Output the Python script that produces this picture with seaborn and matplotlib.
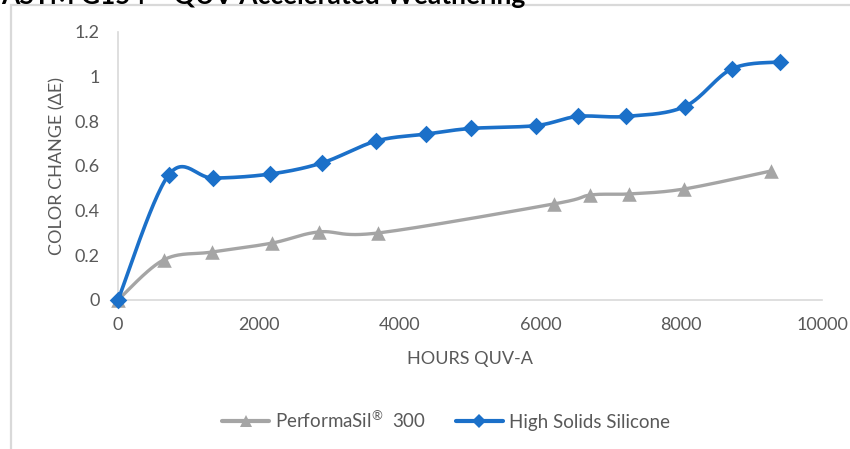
import numpy as np
import pandas as pd
import matplotlib
matplotlib.use("Agg")
import matplotlib.pyplot as plt
from matplotlib.lines import Line2D
from matplotlib.patches import Rectangle
import seaborn as sns

# ---- data ----
perf_hours = [0, 650, 1340, 2190, 2860, 3690, 6190, 6710, 7260, 8040, 9280]
perf_de = [0, 0.18, 0.215, 0.255, 0.305, 0.30, 0.43, 0.47, 0.475, 0.497, 0.578]

hss_hours = [0, 720, 1350, 2160, 2900, 3670, 4380, 5010, 5940, 6530, 7220, 8050, 8720, 9400]
hss_de = [0, 0.56, 0.546, 0.564, 0.614, 0.712, 0.743, 0.768, 0.781, 0.822, 0.822, 0.866, 1.035, 1.066]

series_names = ["PerformaSil$^{\\circledR}$  300", "High Solids Silicone"]
x_ticks = [0, 2000, 4000, 6000, 8000, 10000]
y_ticks = [0, 0.2, 0.4, 0.6, 0.8, 1, 1.2]
y_tick_labels = ["0", "0.2", "0.4", "0.6", "0.8", "1", "1.2"]

sns.set_style("white")
plt.rcParams["font.family"] = ["Lato", "DejaVu Sans"]
plt.rcParams["mathtext.fontset"] = "custom"
plt.rcParams["mathtext.rm"] = "Lato"
plt.rcParams["mathtext.default"] = "regular"

W, H = 850, 449
fig = plt.figure(figsize=(W / 100, H / 100), dpi=100)
L, R, B, T = 118, 822, 300, 32
ax = fig.add_axes([L / W, 1 - B / H, (R - L) / W, (B - T) / H])

XMAX, YMAX = 10000, 1.2
sx, sy = (R - L) / XMAX, (B - T) / YMAX


def smooth(xs, ys, n=30):
    # Excel-like smoothing: Catmull-Rom Bezier in screen space
    P = np.column_stack([np.array(xs) * sx, np.array(ys) * sy])
    out = []
    for i in range(len(P) - 1):
        p0 = P[i - 1] if i > 0 else P[i]
        p1, p2 = P[i], P[i + 1]
        p3 = P[i + 2] if i + 2 < len(P) else P[i + 1]
        c1 = p1 + (p2 - p0) / 6
        c2 = p2 - (p3 - p1) / 6
        t = np.linspace(0, 1, n)[:, None]
        seg = (1 - t) ** 3 * p1 + 3 * (1 - t) ** 2 * t * c1 + 3 * (1 - t) * t ** 2 * c2 + t ** 3 * p2
        out.append(seg if i == 0 else seg[1:])
    S = np.vstack(out)
    return S[:, 0] / sx, S[:, 1] / sy


gray = "#a5a5a5"
blue = "#1b70c9"
txt = "#595959"
FS = 13

gx, gy = smooth(perf_hours, perf_de)
bx, by = smooth(hss_hours, hss_de)

sns.lineplot(x=gx, y=gy, sort=False, ax=ax, color=gray, lw=2.4, legend=False, zorder=3)
sns.scatterplot(x=perf_hours, y=perf_de, ax=ax, marker="^", color=gray, s=110,
                linewidth=0, legend=False, zorder=4)
sns.lineplot(x=bx, y=by, sort=False, ax=ax, color=blue, lw=2.6, legend=False, zorder=5)
sns.scatterplot(x=hss_hours, y=hss_de, ax=ax, marker="D", color=blue, s=80,
                linewidth=0, legend=False, zorder=6)

ax.set_xlim(0, XMAX)
ax.set_ylim(0, YMAX)
ax.set_xticks(x_ticks)
ax.set_xticklabels([str(v) for v in x_ticks])
ax.set_yticks(y_ticks)
ax.set_yticklabels(y_tick_labels)
ax.tick_params(axis="both", length=0, labelsize=FS, labelcolor=txt)
ax.tick_params(axis="x", pad=12)
ax.tick_params(axis="y", pad=13)
for lab in ax.get_yticklabels():
    lab.set_horizontalalignment("right")

for side in ["top", "right"]:
    ax.spines[side].set_visible(False)
for side in ["left", "bottom"]:
    ax.spines[side].set_color("#d9d9d9")
    ax.spines[side].set_linewidth(1.2)
for c in ax.collections + ax.lines:
    c.set_clip_on(False)

ax.set_xlabel("HOURS QUV-A", fontsize=FS, color=txt, labelpad=13)
ax.set_ylabel("COLOR CHANGE (\u0394E)", fontsize=FS, color=txt, labelpad=7)

handles = [
    Line2D([], [], color=gray, lw=3, marker="^", markersize=9, markeredgewidth=0),
    Line2D([], [], color=blue, lw=3, marker="D", markersize=7, markeredgewidth=0),
]
fig.legend(handles, series_names, loc="center", bbox_to_anchor=(446 / W, 1 - 420 / H),
           ncol=2, frameon=False, fontsize=13.5, labelcolor=txt,
           handlelength=2.5, handletextpad=0.3, columnspacing=1.6)

# outer chart border and (clipped, as in the source) title
fig.patches.append(Rectangle((11 / W, -0.1), 1.2, 1 - 5.5 / H + 0.1, transform=fig.transFigure,
                             fill=False, edgecolor="#d9d9d9", lw=1.6, zorder=0))
fig.text(1 / W, 1 - 4 / H, "ASTM G154 \u2013 QUV Accelerated Weathering", fontsize=19,
         fontweight="bold", color="#000000", ha="left", va="baseline")

fig.savefig("out.png", dpi=100)
